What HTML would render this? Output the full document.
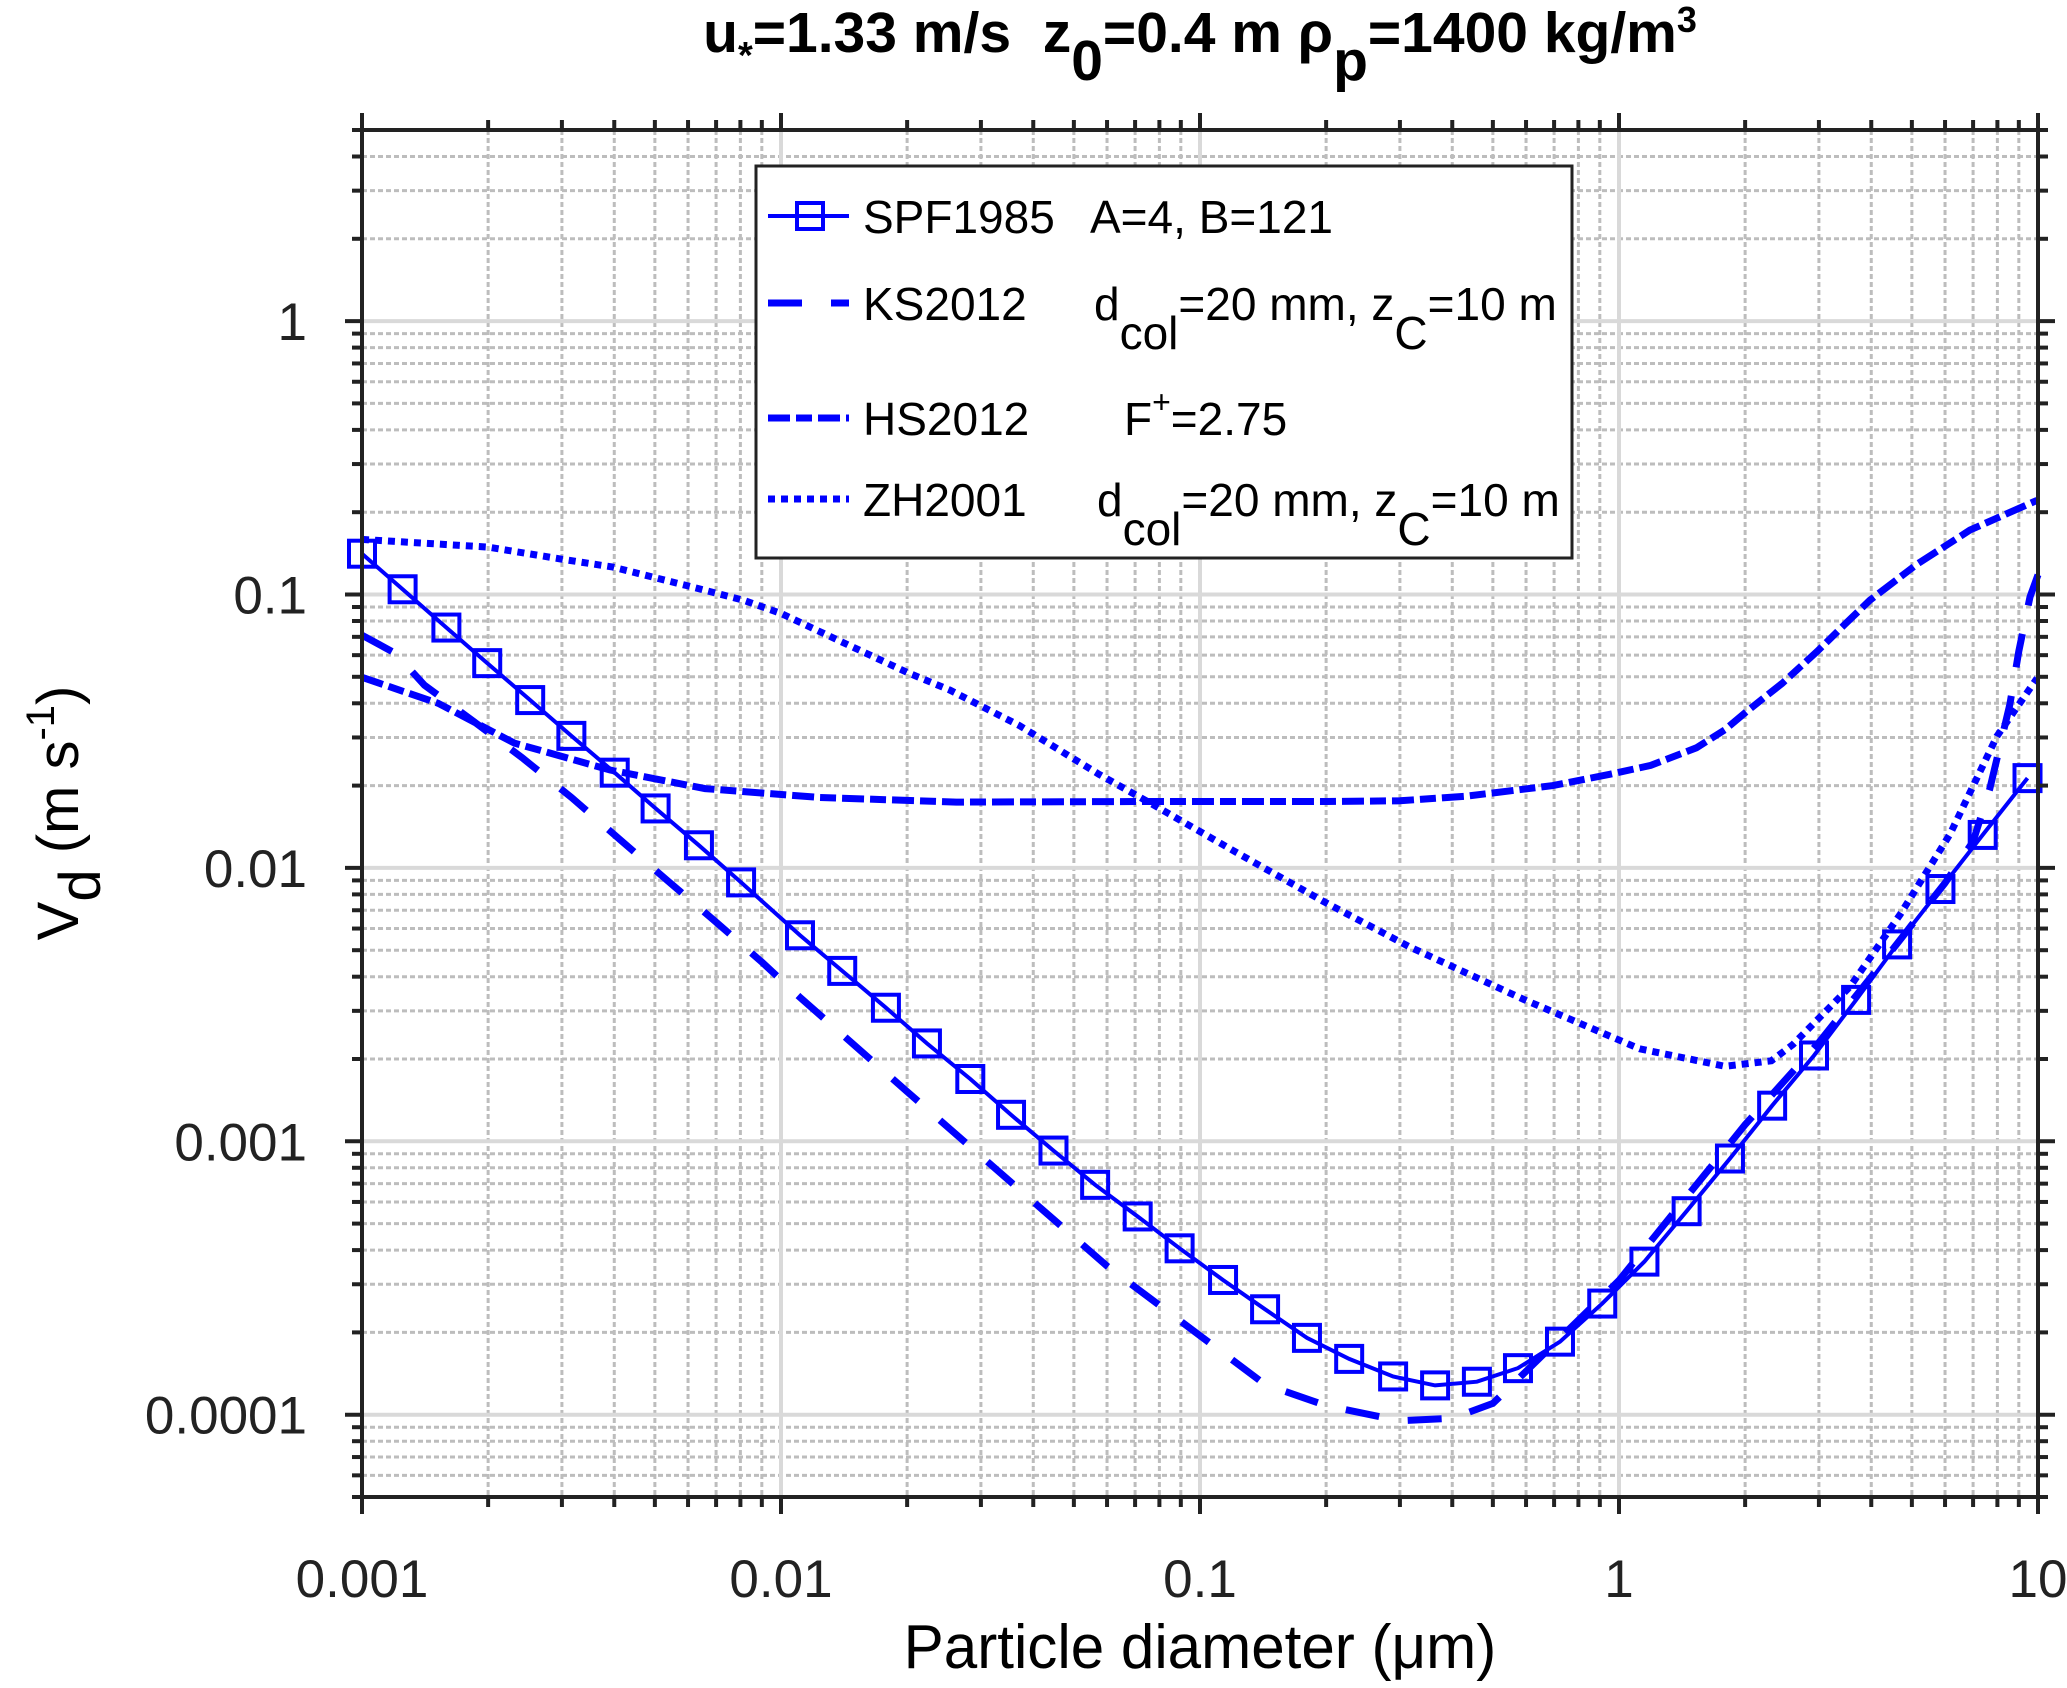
<!DOCTYPE html>
<html><head><meta charset="utf-8"><style>
html,body{margin:0;padding:0;background:#fff;}
svg{display:block;font-family:"Liberation Sans",sans-serif;}
</style></head><body>
<svg id="chart" width="2067" height="1688" viewBox="0 0 2067 1688" xmlns="http://www.w3.org/2000/svg">
<rect x="0" y="0" width="2067" height="1688" fill="#fff"/>
<g id="grid"></g>
<g id="series"></g>
<g id="axes"></g>
<text x="1200" y="52" text-anchor="middle" font-size="57" font-weight="bold">u<tspan font-size="38" dy="16">*</tspan><tspan dy="-16">=1.33 m/s&#160;&#160;z</tspan><tspan dy="28">0</tspan><tspan dy="-28">=0.4 m ρ</tspan><tspan dy="28">p</tspan><tspan dy="-28">=1400 kg/m</tspan><tspan font-size="36" dy="-20">3</tspan></text>
<text transform="translate(78,813) rotate(-90)" text-anchor="middle" font-size="58">V<tspan dy="22">d</tspan><tspan dy="-22"> (m s</tspan><tspan font-size="40" dy="-24">-1</tspan><tspan dy="24">)</tspan></text>
<text x="1200" y="1668" text-anchor="middle" font-size="62" transform="translate(1200,0) scale(0.97,1) translate(-1200,0)">Particle diameter (μm)</text>
<g>
<rect x="756" y="166" width="816" height="392" fill="#fff" stroke="#222" stroke-width="3"/>
<g>
<line x1="768" y1="216" x2="849" y2="216" stroke="#0000ff" stroke-width="4"/>
<rect x="797" y="203" width="26" height="26" fill="none" stroke="#0000ff" stroke-width="4"/>
<text x="863" y="233" font-size="46">SPF1985</text><text x="1090" y="233" font-size="46">A=4, B=121</text></g>
<g>
<line x1="768" y1="303" x2="849" y2="303" stroke="#0000ff" stroke-width="7" stroke-dasharray="34 29"/>
<text x="863" y="320" font-size="46">KS2012</text><text x="1094" y="320" font-size="46">d<tspan dy="29">col</tspan><tspan dy="-29">=20 mm, z</tspan><tspan dy="29">C</tspan><tspan dy="-29">=10 m</tspan></text></g>
<g>
<line x1="768" y1="418" x2="849" y2="418" stroke="#0000ff" stroke-width="7" stroke-dasharray="22 6 16 6"/>
<text x="863" y="435" font-size="46">HS2012</text><text x="1124" y="435" font-size="46">F<tspan font-size="32" dy="-22">+</tspan><tspan dy="22">=2.75</tspan></text></g>
<g>
<line x1="768" y1="499" x2="849" y2="499" stroke="#0000ff" stroke-width="7" stroke-dasharray="7 6"/>
<text x="863" y="516" font-size="46">ZH2001</text><text x="1097" y="516" font-size="46">d<tspan dy="29">col</tspan><tspan dy="-29">=20 mm, z</tspan><tspan dy="29">C</tspan><tspan dy="-29">=10 m</tspan></text></g>
</g>
</svg>
<script>
// ---- data (particle diameter in µm, deposition velocity in m/s) ----
const spfD = [0.001,0.00125,0.00159,0.00199,0.00252,0.00316,0.00401,0.00502,0.00637,0.00803,0.0111,0.0140,0.0178,0.0223,0.0283,0.0354,0.0447,0.0562,0.0710,0.0894,0.1135,0.143,0.180,0.227,0.289,0.364,0.458,0.574,0.723,0.912,1.15,1.45,1.84,2.32,2.92,3.68,4.61,5.85,7.38,9.44];
const spfV = [0.141,0.1045,0.0757,0.0561,0.0411,0.0304,0.0223,0.0165,0.0121,0.00885,0.00567,0.00420,0.00308,0.00228,0.00169,0.00125,0.000925,0.000693,0.000531,0.000406,0.000311,0.000243,0.000191,0.000160,0.000138,0.000128,0.000132,0.000148,0.000185,0.000255,0.000363,0.000555,0.000865,0.00135,0.00206,0.00329,0.00525,0.00837,0.0132,0.0213];
const ksD = [0.001,0.0012,0.00141,0.00183,0.00241,0.00316,0.00415,0.00535,0.00692,0.00902,0.0111,0.02,0.06,0.143,0.2,0.3,0.4,0.5,0.6,1.0,2.0,3.0,4.0,5.0,6.0,7.0,7.67,8.57,9.0,9.57,10];
const ksV = [0.071,0.061,0.0466,0.0347,0.0253,0.0181,0.0126,0.0090,0.00643,0.00451,0.00336,0.00152,0.00035,0.000129,0.000108,0.000095,0.000097,0.00011,0.000144,0.00031,0.00115,0.0023,0.0040,0.0062,0.0088,0.0125,0.0194,0.0397,0.062,0.098,0.118];
const hsD = [0.001,0.00152,0.00231,0.00391,0.00659,0.0123,0.0262,0.0764,0.2,0.3,0.434,0.695,0.95,1.19,1.53,1.79,2.02,2.45,2.97,3.46,3.97,5.14,6.88,9.95];
const hsV = [0.0498,0.040,0.0286,0.0228,0.0195,0.0181,0.0174,0.0175,0.0175,0.0176,0.0183,0.020,0.022,0.0237,0.0275,0.032,0.0374,0.0473,0.0619,0.0778,0.0953,0.129,0.172,0.221];
const zhD = [0.001,0.002,0.00297,0.00397,0.00593,0.00813,0.01,0.0137,0.02,0.0253,0.037,0.0574,0.0764,0.122,0.197,0.315,0.593,1.12,1.79,2.31,2.60,3.56,4.69,6.17,7.98,9.95];
const zhV = [0.159,0.149,0.135,0.126,0.108,0.0953,0.0853,0.068,0.0519,0.0447,0.0332,0.022,0.0172,0.0114,0.00754,0.00516,0.0033,0.00218,0.00188,0.00197,0.00226,0.00368,0.00676,0.0133,0.0303,0.0494];
const xTickVals = [0.001,0.01,0.1,1,10];
const xTickLabels = ["0.001","0.01","0.1","1","10"];
const yTickVals = [0.0001,0.001,0.01,0.1,1];
const yTickLabels = ["0.0001","0.001","0.01","0.1","1"];

// ---- axes ----
const X0=362, X1=2038, Y0=1497, Y1=130;
const xMinL=-3, xMaxL=1, yMinL=Math.log10(5e-5), yMaxL=Math.log10(5);
function sx(v){return X0+(Math.log10(v)-xMinL)/(xMaxL-xMinL)*(X1-X0);}
function sy(v){return Y0-(Math.log10(v)-yMinL)/(yMaxL-yMinL)*(Y0-Y1);}
const NS="http://www.w3.org/2000/svg";
function mk(tag,attrs,parent){const e=document.createElementNS(NS,tag);for(const k in attrs)e.setAttribute(k,attrs[k]);parent.appendChild(e);return e;}
const grid=document.getElementById('grid'), axes=document.getElementById('axes'), series=document.getElementById('series');

for(let e=-3;e<1;e++){for(let m=2;m<=9;m++){const v=m*Math.pow(10,e);const x=sx(v);
 const g=mk('line',{x1:x,y1:Y1,x2:x,y2:Y0,stroke:'#bdbdbd','stroke-width':3,'stroke-dasharray':'5 3'},grid);
 
 
 const t1=mk('line',{x1:x,y1:Y0,x2:x,y2:Y0+10,stroke:'#222','stroke-width':4},axes);
 
 
 const t2=mk('line',{x1:x,y1:Y1,x2:x,y2:Y1-10,stroke:'#222','stroke-width':4},axes);
 
 
}}
for(let e=-5;e<=0;e++){for(let m=2;m<=9;m++){const v=m*Math.pow(10,e);if(v<5e-5-1e-12||v>5+1e-9)continue;const y=sy(v);
 const g=mk('line',{x1:X0,y1:y,x2:X1,y2:y,stroke:'#bdbdbd','stroke-width':3,'stroke-dasharray':'5 3'},grid);
 
 
 const t1=mk('line',{x1:X0,y1:y,x2:X0-10,y2:y,stroke:'#222','stroke-width':4},axes);
 
 
 const t2=mk('line',{x1:X1,y1:y,x2:X1+10,y2:y,stroke:'#222','stroke-width':4},axes);
 
 
}}
xTickVals.forEach((v,i)=>{const x=sx(v);
 const g=mk('line',{x1:x,y1:Y1,x2:x,y2:Y0,stroke:'#d9d9d9','stroke-width':4},grid);
 
 
 const t=mk('line',{x1:x,y1:Y0,x2:x,y2:Y0+17,stroke:'#222','stroke-width':4},axes);
 
 
 const t2=mk('line',{x1:x,y1:Y1,x2:x,y2:Y1-17,stroke:'#222','stroke-width':4},axes);
 
 
 const l=mk('text',{x:x,y:1597,'text-anchor':'middle','font-size':53,fill:'#222'},axes);
 l.textContent=xTickLabels[i];
 
 
});
yTickVals.forEach((v,i)=>{const y=sy(v);
 const g=mk('line',{x1:X0,y1:y,x2:X1,y2:y,stroke:'#d9d9d9','stroke-width':4},grid);
 
 
 const t=mk('line',{x1:X0,y1:y,x2:X0-17,y2:y,stroke:'#222','stroke-width':4},axes);
 
 
 const t2=mk('line',{x1:X1,y1:y,x2:X1+17,y2:y,stroke:'#222','stroke-width':4},axes);
 
 
 const l=mk('text',{x:307,y:y+19,'text-anchor':'end','font-size':53,fill:'#222'},axes);
 l.textContent=yTickLabels[i];
 
 
});
const frame=mk('rect',{x:X0,y:Y1,width:X1-X0,height:Y0-Y1,fill:'none',stroke:'#222','stroke-width':4},axes);



function pathOf(D,V){return D.map((d,i)=>(i?'L':'M')+sx(d).toFixed(1)+' '+sy(V[i]).toFixed(1)).join(' ');}
const ks=mk('path',{d:pathOf(ksD,ksV),fill:'none',stroke:'#0000ff','stroke-width':7,'stroke-dasharray':'34 29'},series);


const hs=mk('path',{d:pathOf(hsD,hsV),fill:'none',stroke:'#0000ff','stroke-width':7,'stroke-dasharray':'22 6 16 6'},series);


const zh=mk('path',{d:pathOf(zhD,zhV),fill:'none',stroke:'#0000ff','stroke-width':7,'stroke-dasharray':'7 6'},series);


const spf=mk('path',{d:pathOf(spfD,spfV),fill:'none',stroke:'#0000ff','stroke-width':4},series);


spfD.forEach((d,i)=>{
 const m=mk('rect',{x:sx(d)-13,y:sy(spfV[i])-13,width:26,height:26,fill:'none',stroke:'#0000ff','stroke-width':4},series);
 
 
});
</script>
</body></html>
